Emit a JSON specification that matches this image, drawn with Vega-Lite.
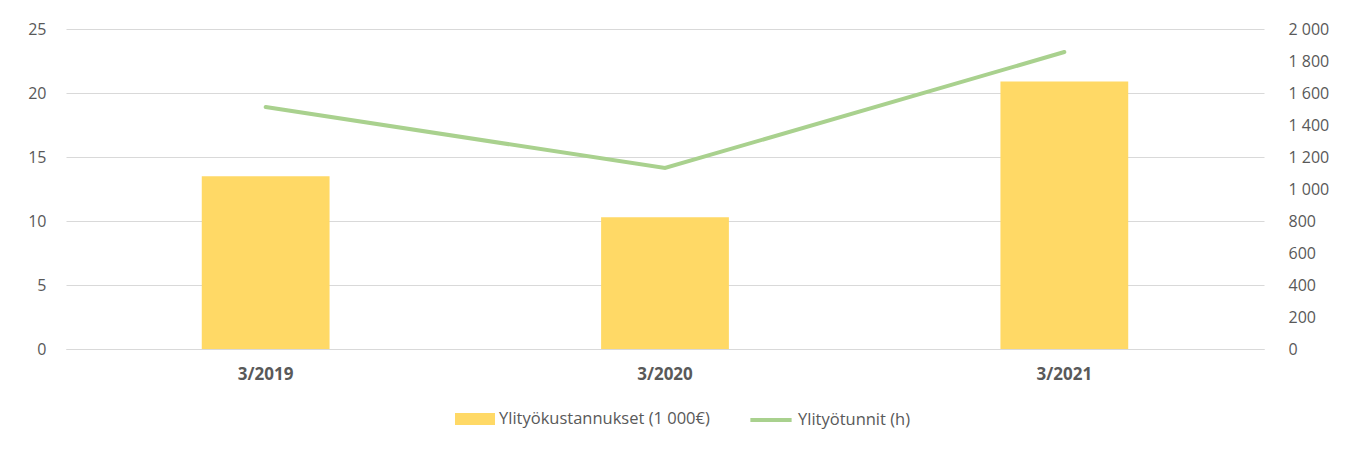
{
  "$schema": "https://vega.github.io/schema/vega-lite/v6.json",
  "width": 1198,
  "height": 320,
  "autosize": "none",
  "padding": {"left": 66, "top": 29, "right": 91, "bottom": 116},
  "background": "white",
  "config": {
    "view": {"stroke": null},
    "font": "Open Sans",
    "axis": {"labelColor": "#595959", "labelFontSize": 16, "ticks": false, "domain": false, "title": null, "gridColor": "#d9d9d9", "gridWidth": 1},
    "legend": {"labelColor": "#595959", "labelFontSize": 16.5, "labelFont": "Open Sans", "orient": "none", "direction": "horizontal", "title": null, "labelOffset": 4, "labelLimit": 400, "padding": 0}
  },
  "data": {"values": [
    {"period": "3/2019", "cost": 13.5, "hours": 1512},
    {"period": "3/2020", "cost": 10.3, "hours": 1131},
    {"period": "3/2021", "cost": 20.9, "hours": 1856}
  ]},
  "encoding": {
    "x": {"field": "period", "type": "nominal", "sort": null,
      "scale": {"paddingInner": 0.68, "paddingOuter": 0.34},
      "axis": {"labelAngle": 0, "labelFontWeight": "bold", "labelFontSize": 17, "labelPadding": 17, "domain": true, "domainColor": "#d9d9d9", "grid": false}}
  },
  "layer": [
    {
      "mark": {"type": "bar"},
      "encoding": {
        "y": {"field": "cost", "type": "quantitative", "scale": {"domain": [0, 25]},
          "axis": {"orient": "left", "values": [0, 5, 10, 15, 20, 25], "grid": true, "labelPadding": 20}},
        "fill": {"datum": "Ylityökustannukset (1 000€)", "type": "nominal", "scale": {"range": ["#FFD966"]},
          "legend": {"symbolType": "M-1,-0.3H1V0.3H-1Z", "symbolSize": 1600, "symbolStrokeWidth": 0, "legendX": 389, "legendY": 370}}
      }
    },
    {
      "mark": {"type": "line", "strokeWidth": 4, "strokeCap": "round"},
      "encoding": {
        "y": {"field": "hours", "type": "quantitative", "scale": {"domain": [0, 2000]},
          "axis": {"orient": "right", "values": [0, 200, 400, 600, 800, 1000, 1200, 1400, 1600, 1800, 2000], "grid": false, "labelPadding": 24,
            "labelExpr": "replace(format(datum.value, ','), ',', ' ')"}},
        "stroke": {"datum": "Ylityötunnit (h)", "type": "nominal", "scale": {"range": ["#A9D18E"]},
          "legend": {"symbolType": "stroke", "symbolSize": 1700, "symbolStrokeWidth": 4, "legendX": 682, "legendY": 368}}
      }
    }
  ],
  "resolve": {"scale": {"y": "independent"}}
}
